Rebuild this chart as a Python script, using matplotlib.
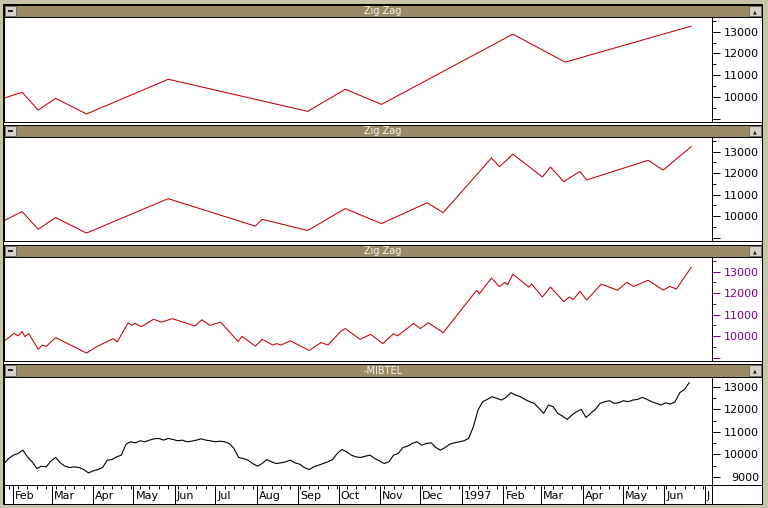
import numpy as np
import pandas as pd
import matplotlib
matplotlib.use('Agg')
import matplotlib.pyplot as plt
import matplotlib.dates as mdates
from matplotlib.patches import Rectangle
from matplotlib.ticker import FixedLocator
from matplotlib.transforms import blended_transform_factory, offset_copy

# ---- data ----
titles = ['Zig Zag', 'Zig Zag', 'Zig Zag', '-MIBTEL']

zz1_dates = ['1996-01-25', '1996-02-08', '1996-02-20', '1996-03-04', '1996-03-27',
             '1996-05-27', '1996-09-08', '1996-10-06', '1996-11-02', '1997-02-08',
             '1997-03-19', '1997-06-21']
zz1_values = [9930, 10210, 9390, 9930, 9210, 10810, 9330, 10350, 9650, 12890, 11600, 13260]

zz2_dates = ['1996-01-25', '1996-02-08', '1996-02-20', '1996-03-04', '1996-03-27',
             '1996-05-27', '1996-07-31', '1996-08-05', '1996-09-08', '1996-10-06',
             '1996-11-02', '1996-12-06', '1996-12-18', '1997-01-23', '1997-01-29',
             '1997-02-08', '1997-03-02', '1997-03-08', '1997-03-18', '1997-03-30',
             '1997-04-04', '1997-05-20', '1997-05-31', '1997-06-21']
zz2_values = [9770, 10210, 9390, 9930, 9210, 10810, 9530, 9850, 9330, 10350,
              9650, 10620, 10160, 12700, 12300, 12880, 11820, 12280, 11600, 12080,
              11680, 12600, 12140, 13230]

zz3_dates = ['1996-01-25', '1996-02-02', '1996-02-05', '1996-02-08', '1996-02-10',
             '1996-02-13', '1996-02-20', '1996-02-23', '1996-02-26', '1996-03-04',
             '1996-03-27', '1996-04-04', '1996-04-16', '1996-04-19', '1996-04-27',
             '1996-04-30', '1996-05-02', '1996-05-07', '1996-05-16', '1996-05-22',
             '1996-05-30', '1996-06-16', '1996-06-21', '1996-06-27', '1996-07-05',
             '1996-07-18', '1996-07-21', '1996-07-31', '1996-08-05', '1996-08-13',
             '1996-08-16', '1996-08-19', '1996-08-26', '1996-09-09', '1996-09-18',
             '1996-09-23', '1996-10-03', '1996-10-06', '1996-10-17', '1996-10-25',
             '1996-11-03', '1996-11-11', '1996-11-14', '1996-11-26', '1996-12-01',
             '1996-12-07', '1996-12-18', '1997-01-12', '1997-01-14', '1997-01-23',
             '1997-01-29', '1997-02-02', '1997-02-04', '1997-02-08', '1997-02-20',
             '1997-02-22', '1997-03-02', '1997-03-08', '1997-03-18', '1997-03-22',
             '1997-03-25', '1997-03-30', '1997-04-04', '1997-04-15', '1997-04-27',
             '1997-05-04', '1997-05-09', '1997-05-20', '1997-05-31', '1997-06-05',
             '1997-06-10', '1997-06-21']
zz3_values = [9730, 10130, 10010, 10210, 9980, 10110, 9390, 9580, 9520, 9930,
              9210, 9520, 9880, 9730, 10610, 10500, 10590, 10440, 10780, 10650,
              10810, 10470, 10760, 10500, 10650, 9750, 9980, 9530, 9850, 9580,
              9650, 9580, 9780, 9330, 9700, 9580, 10240, 10350, 9850, 10080,
              9650, 10110, 10010, 10590, 10350, 10620, 10160, 12130, 11970, 12700,
              12300, 12500, 12390, 12880, 12280, 12420, 11820, 12280, 11600, 11820,
              11700, 12080, 11680, 12420, 12130, 12500, 12310, 12600, 12140, 12310,
              12190, 13200]

# MIBTEL, read twice a week (every 3.5 days) from 25 Jan 1996
mib_start = '1996-01-25 12:00'
mib_values = [9596, 9818, 9966, 10040, 10188, 9892, 9670, 9374, 9477, 9448,
              9714, 9862, 9626, 9477, 9418, 9448, 9418, 9329, 9181, 9270,
              9329, 9418, 9744, 9773, 9892, 9966, 10455, 10559, 10514, 10603,
              10559, 10633, 10692, 10707, 10633, 10707, 10662, 10603, 10633, 10559,
              10588, 10633, 10692, 10633, 10603, 10559, 10588, 10559, 10485, 10262,
              9862, 9818, 9744, 9596, 9477, 9596, 9773, 9670, 9596, 9626,
              9670, 9744, 9626, 9566, 9418, 9329, 9448, 9522, 9596, 9670,
              9773, 10040, 10218, 10114, 9966, 9892, 9862, 9922, 9966, 9818,
              9714, 9596, 9670, 9966, 10040, 10307, 10366, 10485, 10559, 10411,
              10485, 10514, 10307, 10188, 10307, 10455, 10514, 10559, 10603, 10707,
              11225, 11966, 12336, 12439, 12558, 12484, 12410, 12528, 12736, 12632,
              12558, 12439, 12336, 12262, 12040, 11817, 12188, 12113, 11817, 11699,
              11551, 11743, 11892, 11995, 11640, 11817, 11995, 12262, 12336, 12380,
              12262, 12291, 12380, 12336, 12410, 12439, 12528, 12439, 12336, 12262,
              12188, 12291, 12232, 12336, 12736, 12884, 13180]

month_labels = ['Feb', 'Mar', 'Apr', 'May', 'Jun', 'Jul', 'Aug', 'Sep', 'Oct', 'Nov',
                'Dec', '1997', 'Feb', 'Mar', 'Apr', 'May', 'Jun', 'J']

# ---- layout (pixels) ----
W, H = 768, 508
BG = '#c8c4a8'
BAR = '#9a8a68'
RED = '#c00000'
x_lo = pd.Timestamp('1996-01-25 12:00')
x_hi = pd.Timestamp('1997-07-06 12:00')

fig = plt.figure(figsize=(W / 100, H / 100), dpi=100, facecolor=BG)


def rect(x, y, w, h):
    return [x / W, 1 - (y + h) / H, w / W, h / H]


def box(x, y, w, h, fc, ec='none', lw=0.0, z=-1):
    fig.add_artist(Rectangle((x / W, 1 - (y + h) / H), w / W, h / H,
                             transform=fig.transFigure, facecolor=fc,
                             edgecolor=ec, linewidth=lw, zorder=z))


box(3, 4, 759, 500, 'white', 'black', 0.7, z=-3)

# (title top, plot top, plot bottom)
panels = [(5, 17, 122), (125, 137, 241), (245, 257, 361), (364, 377, 485)]
series = [(zz1_dates, zz1_values), (zz2_dates, zz2_values), (zz3_dates, zz3_values), None]

for i, (tt, pt, pb) in enumerate(panels):
    box(4, tt, 758, pt - tt, BAR, 'black', 0.7)
    fig.text(383 / W, 1 - (tt + (pt - tt) / 2 + 0.5) / H, titles[i], color='#f6f3ea',
             fontsize=7, ha='center', va='center')
    # little window buttons
    box(5, tt + 1, 11, pt - tt - 2, '#d6d3ca', '#555555', 0.5, z=1)
    box(8, tt + 5, 5, 2, '#222222', z=2)
    box(749, tt + 1, 12, pt - tt - 2, '#d6d3ca', '#555555', 0.5, z=1)
    fig.text(755 / W, 1 - (tt + 6.5) / H, '\u25b2', fontsize=3.5, ha='center',
             va='center', color='#222222', zorder=3)
    box(712, pt, 50, pb - pt, 'white', 'black', 0.7)

    ax = fig.add_axes(rect(4, pt, 708, pb - pt))
    ax.set_xlim(x_lo, x_hi)
    if i < 3:
        ax.set_ylim(8840, 13680)
        minors = [9500, 10500, 11500, 12500, 13500]
    else:
        ax.set_ylim(8644, 13431)
        minors = [9500, 10500, 11500, 12500]
    majors = [9000, 10000, 11000, 12000, 13000]
    ax.yaxis.set_major_locator(FixedLocator(majors))
    ax.yaxis.set_minor_locator(FixedLocator(minors))
    ax.set_yticklabels([''] + [str(v) for v in majors[1:]] if i < 3 else [str(v) for v in majors])
    ax.yaxis.tick_right()
    tc = '#800080' if i == 2 else 'black'
    ax.tick_params(axis='y', which='major', length=5.8, width=0.7, pad=28,
                   labelsize=8, color=tc, labelcolor=tc)
    ax.tick_params(axis='y', which='minor', length=2.9, width=0.7, color=tc)
    for t in ax.yaxis.get_major_ticks():
        t.label2.set_horizontalalignment('right')
    ax.set_xticks([])
    for s in ax.spines.values():
        s.set_linewidth(0.7)

    if series[i] is not None:
        d, v = series[i]
        ax.plot(pd.to_datetime(d), v, color=RED, lw=0.75)
    else:
        mib_dates = pd.date_range(mib_start, periods=len(mib_values), freq='84h')
        ax.plot(mib_dates, mib_values, color='black', lw=0.8)

# date strip under the last panel
ax_d = fig.add_axes(rect(4, 485, 708, 19))
ax_d.set_xlim(x_lo, x_hi)
ax_d.set_yticks([])
month_starts = pd.date_range('1996-02-01', periods=len(month_labels), freq='MS')
ax_d.xaxis.set_major_locator(FixedLocator(mdates.date2num(month_starts)))
ax_d.xaxis.set_minor_locator(mdates.WeekdayLocator(byweekday=mdates.MO))
ax_d.xaxis.tick_top()
ax_d.tick_params(axis='x', which='major', direction='in', length=13.7, width=0.7,
                 labeltop=False)
ax_d.tick_params(axis='x', which='minor', direction='in', length=3, width=0.7)
for s in ax_d.spines.values():
    s.set_linewidth(0.7)
tr = offset_copy(blended_transform_factory(ax_d.transData, ax_d.transAxes),
                 fig=fig, x=2, y=0, units='dots')
for d, lab in zip(month_starts, month_labels):
    ax_d.text(d, 0.40, lab, transform=tr, ha='left', va='center', fontsize=8,
              clip_on=True)

fig.savefig('out.png', dpi=100, facecolor=BG)
